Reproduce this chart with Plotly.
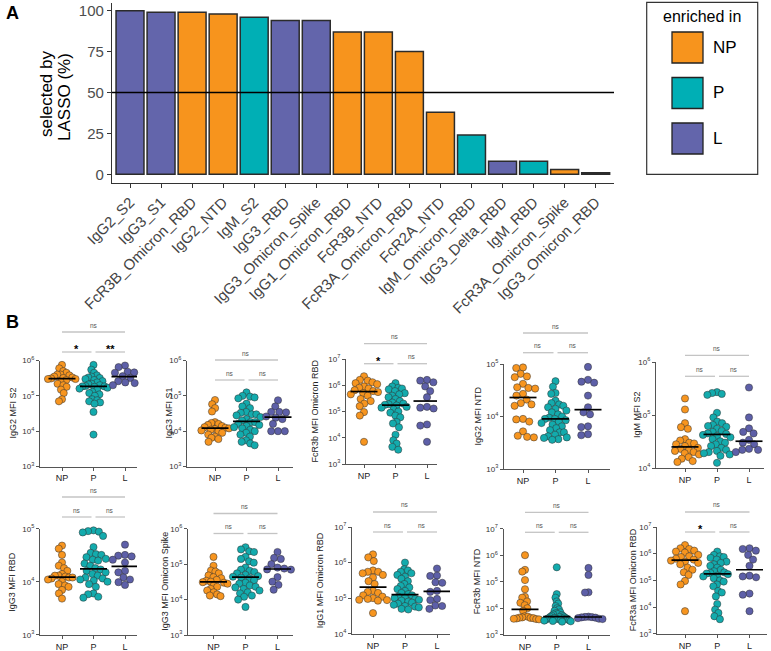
import numpy as np
import plotly.graph_objects as go

W, H = 771, 651

# ---------------- Panel A data ----------------
features = ["IgG2_S2", "IgG3_S1", "FcR3B_Omicron_RBD", "IgG2_NTD", "IgM_S2", "IgG3_RBD",
            "IgG3_Omicron_Spike", "IgG1_Omicron_RBD", "FcR3B_NTD", "FcR3A_Omicron_RBD",
            "FcR2A_NTD", "IgM_Omicron_RBD", "IgG3_Delta_RBD", "IgM_RBD",
            "FcR3A_Omicron_Spike", "IgG3_Omicron_RBD"]
lasso_pct = [100, 99, 99, 98, 96, 94, 94, 87, 87, 75, 38, 24, 8, 8, 3, 1]
enriched = ["L", "L", "NP", "NP", "P", "L", "L", "NP", "NP", "NP", "NP", "P", "L", "P", "NP", "L"]
groups = ["NP", "P", "L"]
group_colors = {"NP": "#F7941D", "P": "#00AFB5", "L": "#6365AB"}
dot_colors = {"NP": "#F7951F", "P": "#13ABAD", "L": "#5D5FA8"}
y_ticks_a = [0, 25, 50, 75, 100]
threshold = 50

# ---------------- Panel B data ----------------
igg2_s2 = {
    "NP": [7.5e5, 6e5, 5e5, 4.5e5, 4e5, 4e5, 3.8e5, 3.5e5, 3.3e5, 3.2e5, 3.1e5, 3e5, 3e5, 2.8e5, 2.5e5, 2.2e5, 2e5, 1.8e5, 1.5e5, 1.2e5, 8e4, 7e4],
    "P": [7.5e5, 5.5e5, 4.5e5, 3.8e5, 3.5e5, 3.3e5, 3.2e5, 3e5, 2.8e5, 2.6e5, 2.4e5, 2.2e5, 2.1e5, 2e5, 1.9e5, 1.85e5, 1.85e5, 1.8e5, 1.7e5, 1.6e5, 1.5e5, 1.3e5, 1.2e5, 1.1e5, 1e5, 8e4, 7.5e4, 7e4, 6.5e4, 6e4, 3.5e4, 8e3],
    "L": [7.2e5, 6.5e5, 4.8e5, 4.6e5, 4.5e5, 3.6e5, 3.4e5, 3.2e5, 2.6e5, 2.4e5, 2.3e5, 2e5],
}
igg3_s1 = {
    "NP": [7.6e4, 5.8e4, 4.5e4, 3.6e4, 1.8e4, 1.7e4, 1.6e4, 1.5e4, 1.4e4, 1.3e4, 1.25e4, 1.2e4, 1.15e4, 1.1e4, 1.05e4, 1e4, 9e3, 8e3, 7e3, 6.5e3, 6e3, 5e3],
    "P": [1.25e5, 1e5, 9.5e4, 9e4, 8.5e4, 6e4, 5e4, 4.5e4, 3.5e4, 3.3e4, 3e4, 3e4, 2.8e4, 2.5e4, 2.2e4, 2e4, 1.8e4, 1.8e4, 1.6e4, 1.5e4, 1.4e4, 1.3e4, 1.2e4, 1.1e4, 1e4, 9e3, 8e3, 7e3, 5.5e3, 5e3, 4.5e3, 4e3],
    "L": [7.5e4, 5e4, 3.5e4, 3.5e4, 3.4e4, 2.6e4, 2.4e4, 2.2e4, 1.6e4, 1e4, 1e4, 1e4],
}
fcr3b_omicron_rbd = {
    "NP": [2.2e6, 1.6e6, 1.5e6, 1.3e6, 1.2e6, 1.1e6, 9e5, 8e5, 7.5e5, 6.5e5, 6e5, 5.5e5, 5e5, 4.5e5, 4e5, 3e5, 2.5e5, 2e5, 1.6e5, 9.5e4, 7e4, 7e3],
    "P": [1.2e6, 9e5, 8e5, 7.5e5, 7e5, 6e5, 5e5, 4.5e5, 4e5, 3.5e5, 3e5, 2.5e5, 2.2e5, 2e5, 1.9e5, 1.8e5, 1.7e5, 1.5e5, 1.4e5, 1.2e5, 1e5, 9e4, 7e4, 6e4, 4e4, 3.5e4, 2.5e4, 1.3e4, 8e3, 6e3, 4.5e3, 3.5e3],
    "L": [1.6e6, 1.5e6, 1.3e6, 9e5, 6e5, 3.5e5, 1.5e5, 1.4e5, 1.3e5, 3.2e4, 2.9e4, 7e3],
}
igg2_ntd = {
    "NP": [8.6e4, 8.4e4, 6.5e4, 5.8e4, 5.6e4, 4.2e4, 3.6e4, 3.5e4, 3.4e4, 2.7e4, 2.5e4, 2.1e4, 1.8e4, 1.7e4, 1.6e4, 9e3, 8.8e3, 8e3, 5.2e3, 4.3e3, 4.1e3, 4e3],
    "P": [4.7e4, 3.7e4, 2.8e4, 2.7e4, 2e4, 1.8e4, 1.7e4, 1.6e4, 1.5e4, 1.4e4, 1.3e4, 1.2e4, 1.1e4, 1e4, 9.5e3, 9e3, 9e3, 8.5e3, 8e3, 7.5e3, 7e3, 6.5e3, 6e3, 5.5e3, 5e3, 5e3, 4.5e3, 4.2e3, 4e3, 3.9e3, 3.7e3, 3.6e3],
    "L": [8.8e4, 5e4, 4.6e4, 4.4e4, 2.5e4, 1.5e4, 1.2e4, 1.1e4, 6.5e3, 6.3e3, 4.6e3, 4.4e3],
}
igm_s2 = {
    "NP": [2.05e5, 1.27e5, 7e4, 5.9e4, 5.5e4, 3.5e4, 3.3e4, 3e4, 2.9e4, 2.8e4, 2.6e4, 2.4e4, 2.3e4, 2.2e4, 2.1e4, 2e4, 1.9e4, 1.8e4, 1.6e4, 1.5e4, 1.35e4, 1.3e4],
    "P": [2.7e5, 2.6e5, 2.5e5, 2.4e5, 1.1e5, 9e4, 7.5e4, 7e4, 6.5e4, 6.2e4, 6e4, 5.5e4, 5e4, 4.8e4, 4.5e4, 4.4e4, 4.2e4, 4e4, 3.8e4, 3.5e4, 3.2e4, 3e4, 2.8e4, 2.6e4, 2.4e4, 2.2e4, 2.1e4, 2e4, 1.9e4, 1.8e4, 1.7e4, 1.25e4],
    "L": [3.3e5, 9e4, 5.6e4, 4.8e4, 4.5e4, 3.4e4, 3e4, 2.8e4, 2.3e4, 2.2e4, 2.2e4, 2e4],
}
igg3_rbd = {
    "NP": [4.8e4, 4.2e4, 3.2e4, 2.3e4, 2e4, 1.8e4, 1.6e4, 1.4e4, 1.3e4, 1.3e4, 1.25e4, 1.2e4, 1.2e4, 1.15e4, 1.1e4, 1e4, 9e3, 8.5e3, 8e3, 7e3, 6e3, 4.8e3],
    "P": [9.3e4, 9e4, 8.8e4, 8.5e4, 7.3e4, 4.5e4, 3.5e4, 3.3e4, 3.2e4, 2.9e4, 2.7e4, 2.6e4, 2.5e4, 2.2e4, 2e4, 1.8e4, 1.7e4, 1.6e4, 1.5e4, 1.4e4, 1.3e4, 1.2e4, 1.15e4, 1.1e4, 1.05e4, 1e4, 9e3, 8e3, 6e3, 5.8e3, 5.2e3, 5e3],
    "L": [5e4, 3.2e4, 3.1e4, 3e4, 2.6e4, 2.3e4, 1.6e4, 1.5e4, 1.2e4, 1.1e4, 9.8e3, 8.7e3],
}
igg3_omicron_spike = {
    "NP": [1.6e5, 9e4, 6.6e4, 6.2e4, 5.5e4, 4.8e4, 4.3e4, 4e4, 3.6e4, 3.4e4, 3.2e4, 3.1e4, 3e4, 2.8e4, 2.5e4, 2.3e4, 2e4, 1.8e4, 1.6e4, 1.4e4, 1.3e4, 1.25e4],
    "P": [3e5, 2.6e5, 2.3e5, 2.2e5, 1.6e5, 1.4e5, 1.2e5, 1.1e5, 8e4, 7e4, 6.5e4, 6e4, 5.5e4, 5e4, 4.6e4, 4.4e4, 4.2e4, 4e4, 3.5e4, 3e4, 2.8e4, 2.5e4, 2.3e4, 2.2e4, 2e4, 1.8e4, 1.6e4, 1.5e4, 1.3e4, 1.2e4, 1e4, 6.2e3],
    "L": [2.2e5, 1.5e5, 1.4e5, 1e5, 8e4, 7.5e4, 7.1e4, 7e4, 4.3e4, 3.2e4, 2.6e4, 1.9e4],
}
igg1_omicron_rbd = {
    "NP": [1.7e6, 1.4e6, 1.1e6, 6e5, 5.5e5, 5.5e5, 5e5, 4.5e5, 3.8e5, 3e5, 2.5e5, 1.6e5, 1.5e5, 1.4e5, 1.2e5, 1.1e5, 1e5, 9.5e4, 9e4, 8.8e4, 8.5e4, 3.8e4],
    "P": [1e6, 6.5e5, 6e5, 5.5e5, 5e5, 4.5e5, 4e5, 3.5e5, 3e5, 2.5e5, 2.2e5, 2e5, 1.8e5, 1.6e5, 1.4e5, 1.3e5, 1.2e5, 1.1e5, 1e5, 1e5, 9.5e4, 9e4, 8.5e4, 8e4, 7.5e4, 7e4, 6.5e4, 6e4, 5.8e4, 5.5e4, 5e4, 4.8e4],
    "L": [6.8e5, 4.3e5, 4.2e5, 2.8e5, 2.7e5, 1.6e5, 1.5e5, 9.5e4, 8.8e4, 6.2e4, 6e4, 5e4],
}
fcr3b_ntd = {
    "NP": [1e6, 2.8e5, 2.4e5, 1.15e5, 5.2e4, 2.7e4, 2.5e4, 1.8e4, 1.6e4, 1.3e4, 1e4, 8e3, 5e3, 4.8e3, 4.5e3, 4.4e3, 4.3e3, 4.2e3, 4.1e3, 4e3, 3.9e3, 3.8e3],
    "P": [3.5e5, 3.4e4, 2.5e4, 1.8e4, 1.5e4, 1.2e4, 1e4, 9e3, 8e3, 7e3, 6.5e3, 6e3, 5.8e3, 5.5e3, 5.2e3, 5e3, 4.7e3, 4.6e3, 4.5e3, 4.3e3, 4.2e3, 4.1e3, 4e3, 3.9e3, 3.8e3, 3.7e3, 3.6e3, 3.5e3, 3.4e3, 3.3e3, 3.2e3, 3.1e3],
    "L": [3.3e5, 1.8e5, 4e4, 3.9e4, 4.8e3, 4.7e3, 4.6e3, 4.5e3, 4.4e3, 4.2e3, 4e3, 3.9e3],
}
fcr3a_omicron_rbd = {
    "NP": [2.1e6, 1.6e6, 1.5e6, 1.3e6, 1.2e6, 1.1e6, 9e5, 8e5, 7.5e5, 6.5e5, 6e5, 5.5e5, 5e5, 4.5e5, 4e5, 3e5, 2.5e5, 2e5, 1.6e5, 9.5e4, 7e4, 7e3],
    "P": [1.2e6, 9e5, 8e5, 7.5e5, 7e5, 6e5, 5e5, 4.5e5, 4e5, 3.5e5, 3e5, 2.5e5, 2.2e5, 2e5, 1.9e5, 1.8e5, 1.7e5, 1.5e5, 1.4e5, 1.2e5, 1e5, 9e4, 7e4, 6e4, 4e4, 3.5e4, 2.5e4, 1.3e4, 8e3, 6e3, 4.5e3, 3.5e3],
    "L": [1.6e6, 1.5e6, 1.3e6, 9e5, 6e5, 3.5e5, 1.5e5, 1.4e5, 1.3e5, 3.2e4, 2.9e4, 7e3],
}

panel_titles = ["IgG2 MFI S2", "IgG3 MFI S1", "FcR3b MFI Omicron RBD", "IgG2 MFI NTD", "IgM MFI S2",
                "IgG3 MFI RBD", "IgG3 MFI Omicron Spike", "IgG1 MFI Omicron RBD", "FcR3b MFI NTD",
                "FcR3a MFI Omicron RBD"]
panel_data = [igg2_s2, igg3_s1, fcr3b_omicron_rbd, igg2_ntd, igm_s2,
              igg3_rbd, igg3_omicron_spike, igg1_omicron_rbd, fcr3b_ntd, fcr3a_omicron_rbd]
# significance: (NP vs L, NP vs P, P vs L)
panel_sig = [("ns", "*", "**"), ("ns", "ns", "ns"), ("ns", "*", "ns"), ("ns", "ns", "ns"), ("ns", "ns", "ns"),
             ("ns", "ns", "ns"), ("ns", "ns", "ns"), ("ns", "ns", "ns"), ("ns", "ns", "ns"), ("ns", "*", "ns")]
panel_decades = [(3, 6), (3, 6), (3, 7), (3, 5), (4, 6), (3, 5), (3, 6), (4, 7), (3, 7), (3, 7)]

# ---------------- layout geometry (pixels) ----------------
geom = [
    dict(left=40, right=137, np_=62, l=125, top=360.5, bot=466.5, br=(332, 352), toff=28),
    dict(left=187, right=293, np_=215, l=278, top=360.5, bot=466.5, br=(360, 380), toff=19),
    dict(left=346, right=437, np_=364, l=427, top=359, bot=464, br=(343.7, 363.7), toff=31),
    dict(left=504, right=610, np_=523, l=588, top=364, bot=469, br=(333, 352.7), toff=27),
    dict(left=656, right=764, np_=685, l=749, top=362, bot=468, br=(355.3, 376.3), toff=19),
    dict(left=40, right=137, np_=62, l=125, top=528.7, bot=634.7, br=(497, 517), toff=28),
    dict(left=188, right=293, np_=213.5, l=277.5, top=528.7, bot=635, br=(513.5, 533.5), toff=23),
    dict(left=352, right=450, np_=373, l=437, top=527, bot=633.7, br=(512, 532), toff=32),
    dict(left=503.5, right=610, np_=525, l=588.5, top=528.7, bot=634.7, br=(512.3, 532.3), toff=27),
    dict(left=657, right=767, np_=685, l=749.5, top=527, bot=633.7, br=(512, 532), toff=24),
]


def fx(px):
    return px / W


def fy(px):
    return 1 - px / H


def swarm(ypx, d, maxw):
    order = np.argsort(-ypx)
    placed = []
    xs = np.zeros(len(ypx))
    for i in order:
        yi = ypx[i]
        cands = [0.0]
        for xj, yj in placed:
            dy = abs(yi - yj)
            if dy < d:
                dx = np.sqrt(d * d - dy * dy)
                cands += [xj + dx, xj - dx]
        cands.sort(key=lambda c: (abs(c), c))
        for c in cands:
            if all((c - xj) ** 2 + (yi - yj) ** 2 >= d * d - 1e-6 for xj, yj in placed):
                xs[i] = c
                break
        placed.append((xs[i], yi))
    m = np.max(np.abs(xs)) if len(xs) else 0
    if m > maxw:
        xs = xs * maxw / m
    return xs


def note(text, xpx, ypx, size, color="black", angle=0, xanchor="center", yanchor="middle"):
    return dict(text=text, x=fx(xpx), y=fy(ypx), xref="paper", yref="paper", textangle=angle,
                xanchor=xanchor, yanchor=yanchor, showarrow=False, font=dict(size=size, color=color))


fig = go.Figure()
layout = dict(width=W, height=H, margin=dict(l=0, r=0, t=0, b=0, pad=0, autoexpand=False), autosize=False,
              paper_bgcolor="white", plot_bgcolor="white", showlegend=False,
              font=dict(family="Liberation Sans, Arial, sans-serif", color="#222"))
shapes = []
annotations = []

# ---------------- Panel A ----------------
a_left, a_right, a_top, a_bot = 112, 614, 3, 182.7
xr_a = [-0.58, 15.59]
yr_a = [-5.13, 104.7]
fig.add_trace(go.Bar(x=list(range(len(features))), y=lasso_pct,
                     marker=dict(color=[group_colors[g] for g in enriched],
                                 line=dict(color="#2b2b2b", width=1.5)),
                     width=0.9, xaxis="x", yaxis="y", hoverinfo="skip"))
layout["xaxis"] = dict(domain=[fx(a_left), fx(a_right)], range=xr_a, anchor="y", automargin=False,
                       tickvals=list(range(len(features))), ticktext=features, tickangle=-45,
                       tickfont=dict(size=15, color="#444"), ticks="outside", ticklen=4,
                       tickcolor="#333", showline=True, linecolor="#333", linewidth=1.3,
                       showgrid=False, zeroline=False)
layout["yaxis"] = dict(domain=[fy(a_bot), fy(a_top)], range=yr_a, anchor="x", automargin=False,
                       tickvals=y_ticks_a, tickfont=dict(size=15, color="#4D4D4D"),
                       ticks="outside", ticklen=4, tickcolor="#333", showline=True,
                       linecolor="#333", linewidth=1.3, showgrid=False, zeroline=False)
shapes.append(dict(type="line", xref="x", yref="y", x0=xr_a[0], x1=xr_a[1], y0=threshold, y1=threshold,
                   line=dict(color="black", width=1.3)))
annotations.append(note("selected by", 47, 94, 17, angle=-90))
annotations.append(note("LASSO (%)", 64, 97, 17, angle=-90))
annotations.append(note("<b>A</b>", 12, 13, 18))
annotations.append(note("<b>B</b>", 12, 322, 18))

# legend box
shapes.append(dict(type="rect", xref="paper", yref="paper", x0=fx(646.7), x1=fx(757.7),
                   y0=fy(174.3), y1=fy(2.3), line=dict(color="#333", width=1.2), fillcolor="white"))
annotations.append(note("enriched in", 702, 17, 16))
for i, g in enumerate(groups):
    top = 32 + i * 45.5
    shapes.append(dict(type="rect", xref="paper", yref="paper", x0=fx(672), x1=fx(703),
                       y0=fy(top + 31), y1=fy(top), fillcolor=group_colors[g],
                       line=dict(color="#222", width=1.3)))
    annotations.append(note(g, 711, top + 15.5, 17, xanchor="left"))

# ---------------- Panel B ----------------
D = 6.8
MAXW = 14
for k, (title, data, sig, dec, g) in enumerate(zip(panel_titles, panel_data, panel_sig, panel_decades, geom)):
    n = k + 2
    xa, ya = f"x{n}", f"y{n}"
    ppx = (g["l"] - g["np_"]) / 2.0
    x0 = -(g["np_"] - g["left"]) / ppx
    x1 = 2 + (g["right"] - g["l"]) / ppx
    ppd = (g["bot"] - g["top"]) / (dec[1] - dec[0])
    for gi, grp in enumerate(groups):
        vals = np.array(data[grp], dtype=float)
        offs = swarm(np.log10(vals) * ppd, D, MAXW)
        fig.add_trace(go.Scatter(x=gi + offs / ppx, y=vals, mode="markers", xaxis=xa, yaxis=ya,
                                 cliponaxis=False, hoverinfo="skip",
                                 marker=dict(size=7.2, color=dot_colors[grp],
                                             line=dict(color="rgba(50,50,50,0.85)", width=0.6))))
    for gi, grp in enumerate(groups):
        med = float(np.median(data[grp]))
        hw = 13.5 / ppx
        fig.add_trace(go.Scatter(x=[gi - hw, gi + hw], y=[med, med], mode="lines", xaxis=xa, yaxis=ya,
                                 hoverinfo="skip", line=dict(color="black", width=1.7)))
    layout[f"xaxis{n}"] = dict(domain=[fx(g["left"]), fx(g["right"])], range=[x0, x1], anchor=ya,
                               automargin=False,
                               tickvals=[0, 1, 2], ticktext=groups, tickfont=dict(size=9, color="#222"),
                               ticks="outside", ticklen=3, tickcolor="#555", showline=True,
                               linecolor="#555", linewidth=1, showgrid=False, zeroline=False)
    tv = [10.0 ** d for d in range(dec[0], dec[1] + 1)]
    tt = [f"10<sup>{d}</sup>" for d in range(dec[0], dec[1] + 1)]
    layout[f"yaxis{n}"] = dict(domain=[fy(g["bot"]), fy(g["top"])], type="log", range=list(dec),
                               anchor=xa, automargin=False, tickvals=tv, ticktext=tt,
                               tickfont=dict(size=8, color="#333"),
                               ticks="outside", ticklen=3, tickcolor="#555", showline=True,
                               linecolor="#555", linewidth=1, showgrid=False, zeroline=False)
    annotations.append(note(title, g["left"] - g["toff"], (g["top"] + g["bot"]) / 2, 9,
                            color="#222", angle=-90))
    # brackets
    p_px = g["np_"] + ppx
    bars = [(g["np_"], g["l"], g["br"][0], sig[0]),
            (g["np_"], p_px - 2, g["br"][1], sig[1]),
            (p_px + 2, g["l"], g["br"][1], sig[2])]
    for bx0, bx1, by, lab in bars:
        shapes.append(dict(type="line", xref="paper", yref="paper", x0=fx(bx0), x1=fx(bx1),
                           y0=fy(by), y1=fy(by), line=dict(color="#C4C4C4", width=1.3)))
        if lab == "ns":
            annotations.append(note("ns", (bx0 + bx1) / 2, by - 1.5, 6.5, color="#555", yanchor="bottom"))
        else:
            annotations.append(note(f"<b>{lab}</b>", (bx0 + bx1) / 2, by - 3, 11))

layout["shapes"] = shapes
layout["annotations"] = annotations
fig.update_layout(**layout)
fig.write_html("out.html", config={"displayModeBar": False},
               post_script="document.body.style.margin='0';document.body.style.overflow='hidden';")
